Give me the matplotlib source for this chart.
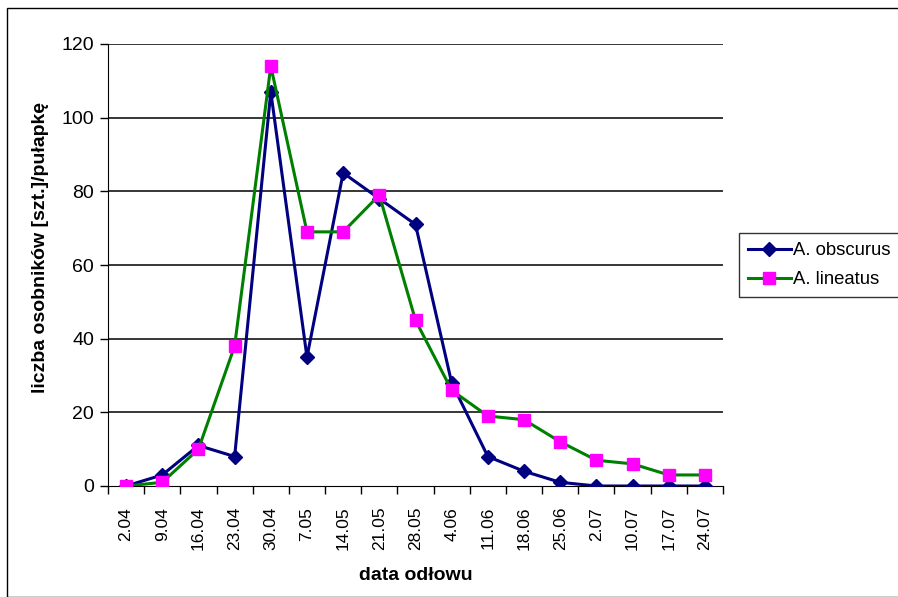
import matplotlib.pyplot as plt
from matplotlib.patches import Rectangle

plt.rcParams["font.family"] = ["Liberation Sans", "DejaVu Sans"]

dates = ["2.04", "9.04", "16.04", "23.04", "30.04", "7.05", "14.05", "21.05",
         "28.05", "4.06", "11.06", "18.06", "25.06", "2.07", "10.07", "17.07", "24.07"]
obscurus = [0, 3, 11, 8, 107, 35, 85, 78, 71, 28, 8, 4, 1, 0, 0, 0, 0]
lineatus = [0, 1, 10, 38, 114, 69, 69, 79, 45, 26, 19, 18, 12, 7, 6, 3, 3]

fig = plt.figure(figsize=(8.98, 5.97), dpi=100)
ax = fig.add_axes([108 / 898, 1 - 486 / 597, 615 / 898, 442 / 597])

x = list(range(len(dates)))
ax.plot(x, obscurus, color="#000080", linewidth=2.2, marker="D", markersize=7,
        markerfacecolor="#000080", markeredgecolor="#000080", label="A. obscurus", zorder=3)
ax.plot(x, lineatus, color="#008000", linewidth=2.2, marker="s", markersize=9,
        markerfacecolor="#ff00ff", markeredgecolor="#ff00ff", label="A. lineatus", zorder=4)

ax.set_xlim(-0.5, len(dates) - 0.5)
ax.set_ylim(0, 120)
ax.set_yticks(range(0, 121, 20))
ax.set_xticks(x)
ax.set_xticklabels(dates, rotation=90, fontsize=12.5)
ax.set_xticks([i - 0.5 for i in range(len(dates) + 1)], minor=True)
ax.tick_params(axis="x", which="major", length=0, pad=15)
ax.tick_params(axis="x", which="minor", length=6, width=1, direction="out")
ax.tick_params(axis="y", length=6, width=1, direction="out", labelsize=14, pad=4)

for v in range(20, 121, 20):
    ax.axhline(v, color="#000000", linewidth=1.1, zorder=1)

for side in ["top", "right"]:
    ax.spines[side].set_visible(False)
ax.spines["left"].set_color("#000000")
ax.spines["bottom"].set_color("#000000")

ax.set_xlabel("data odłowu", fontsize=14, fontweight="bold", labelpad=12)
ax.set_ylabel("liczba osobników [szt.]/pułapkę", fontsize=14, fontweight="bold")
ax.yaxis.set_label_coords(-0.096, 0.54)

leg = fig.legend(loc="upper left", bbox_to_anchor=(739 / 898, 1 - 233 / 597),
                 fontsize=13.3, frameon=True, fancybox=False, edgecolor="#000000",
                 borderpad=0.5, handlelength=2.3, labelspacing=0.65, handletextpad=0.15,
                 borderaxespad=0)
leg.get_frame().set_linewidth(1)

fig.patches.append(Rectangle((7 / 898, 0), 1.2, 1 - 8 / 597, transform=fig.transFigure,
                             fill=False, edgecolor="#000000", linewidth=1))

fig.savefig("out.png", dpi=100)
